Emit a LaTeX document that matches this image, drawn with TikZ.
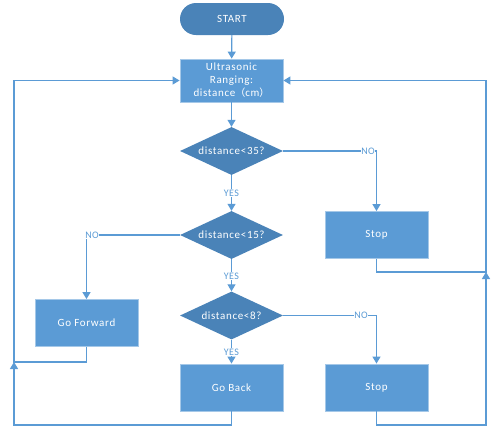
\documentclass[tikz,border=0pt]{standalone}
\usepackage{fontspec}
\setmainfont{Carlito}
\newfontfamily\cjkfont{Noto Sans CJK SC}
\usetikzlibrary{shapes.geometric,arrows.meta}
\definecolor{boxblue}{HTML}{5B9BD5}
\definecolor{darkblue}{HTML}{4A83B8}
\definecolor{lineblue}{HTML}{5B9BD5}
\tikzset{
  base/.style={text=white, font=\fontsize{11}{13}\selectfont\addfontfeature{LetterSpace=6}, align=center, inner sep=0pt},
  procbox/.style={base, rectangle, fill=boxblue, draw=boxblue!55!white, line width=0.8pt, minimum width=103pt, minimum height=47pt},
  decbox/.style={base, diamond, aspect=2.2, fill=darkblue, minimum width=103pt, minimum height=48pt},
  termbox/.style={base, rectangle, rounded corners=16pt, fill=darkblue, minimum width=104pt, minimum height=32pt},
  conn/.style={draw=lineblue, line width=1.2pt},
  arr/.style={conn, -{Triangle[length=7pt,width=8pt]}},
  lbl/.style={fill=white, text=lineblue, font=\fontsize{10}{11}\selectfont\addfontfeature{LetterSpace=4}, inner sep=0.5pt}
}
\begin{document}
\begin{tikzpicture}[x=1pt,y=-1pt]
\useasboundingbox (0,0) rectangle (500,437);
\node[termbox] (start) at (232,19) {START};
\node[procbox, minimum height=43pt] (us) at (231.5,80.5) {Ultrasonic\\Ranging:\\distance{\cjkfont\fontsize{10}{12}\selectfont （}cm{\cjkfont\fontsize{10}{12}\selectfont ）}};
\node[decbox] (d1) at (231.5,151) {distance<35?};
\node[decbox] (d2) at (231.5,235) {distance<15?};
\node[decbox] (d3) at (231.5,315.5) {distance<8?};
\node[procbox] (stop1) at (376.5,235) {Stop};
\node[procbox] (gofwd) at (86.5,323) {Go Forward};
\node[procbox] (goback) at (231.5,387.5) {Go Back};
\node[procbox] (stop2) at (376.5,387.5) {Stop};
\coordinate (c1) at (376.5,151);
\coordinate (c2) at (86.5,235);
\coordinate (c3) at (376.5,315.5);
\coordinate (lb) at (14,425);
\coordinate (lj) at (14,362);
\coordinate (lt) at (14,80.5);
\coordinate (rb) at (486,425);
\coordinate (rj) at (486,272);
\coordinate (rt) at (486,80.5);
\draw[arr] (start) -- (us);
\draw[arr] (us) -- (d1);
\draw[arr] (d1.east) -- (c1) -- (stop1.north);
\node[lbl] (no1) at (368,151) {NO};
\draw[arr] (d1.south) -- (d2.north);
\node[lbl] (yes1) at (231.5,193) {YES};
\draw[arr] (d2.west) -- (c2) -- (gofwd.north);
\node[lbl] (no2) at (92,235) {NO};
\draw[arr] (d2.south) -- (d3.north);
\node[lbl] (yes2) at (231.5,276) {YES};
\draw[arr] (d3.east) -- (c3) -- (stop2.north);
\node[lbl] (no3) at (361,315.5) {NO};
\draw[arr] (d3.south) -- (goback.north);
\node[lbl] (yes3) at (231.5,352) {YES};
\draw[arr] (goback.south) |- (lb) -- (lj);
\draw[arr] (gofwd.south) |- (lj) -- (lt) -- (us.west);
\draw[arr] (stop2.south) |- (rb) -- (rj);
\draw[arr] (stop1.south) |- (rj) -- (rt) -- (us.east);
\end{tikzpicture}
\end{document}
